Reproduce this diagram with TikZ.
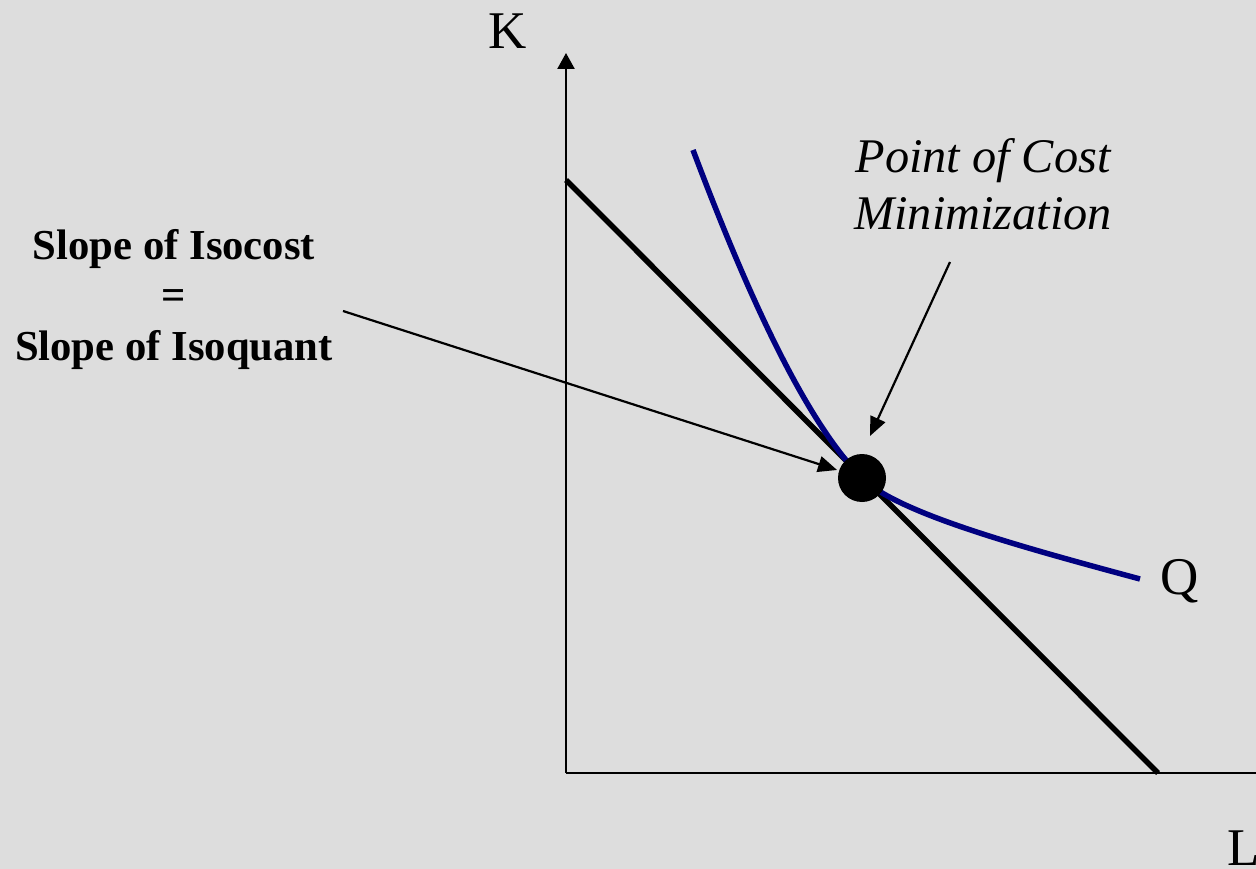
\documentclass[tikz,border=0pt]{standalone}
\usepackage{fontspec}
\setmainfont{Liberation Serif}
\usetikzlibrary{arrows.meta}
\definecolor{bg}{HTML}{DDDDDD}
\definecolor{isoq}{HTML}{000080}
\begin{document}
\begin{tikzpicture}[x=1pt,y=-1pt,
  axis/.style={line width=2.4pt, -{Triangle[length=16pt,width=17pt]}},
  pointer/.style={line width=2.2pt, -{Triangle[length=19pt,width=16pt]}},
  axlabel/.style={font=\fontsize{53}{60}\selectfont, anchor=base, inner sep=0pt},
  boldlab/.style={font=\fontsize{42.7}{50}\selectfont\bfseries, anchor=base, inner sep=0pt},
  itlab/.style={font=\fontsize{48.3}{57}\selectfont\itshape, anchor=base, inner sep=0pt}]
\clip (0,0) rectangle (1256,869);
\fill[bg] (0,0) rectangle (1256,869);
% axes
\coordinate (O) at (566,773);
\coordinate (Ktop) at (566,53);
\coordinate (Lend) at (1272,773);
\draw[axis] (O) -- (Ktop);
\draw[axis] (O) -- (Lend);
\node[axlabel] (K) at (508,49) {K};
\node[axlabel] (L) at (1244,865) {L};
% isocost line
\coordinate (c1) at (566,180);
\coordinate (c2) at (1158,773);
\draw[line width=5.5pt] (c1) -- (c2);
% isoquant
\coordinate (q0) at (693,150);
\coordinate (qt) at (862,478);
\coordinate (q1) at (1140,579);
\draw[isoq, line width=5.5pt] (q0) .. controls (742,280) and (802,418) .. (qt)
  .. controls (897,513) and (1020,546.6) .. (q1);
\node[axlabel] (Q) at (1180,594) {Q};
% point
\node[circle, fill=black, minimum size=48pt, inner sep=0pt] (dot) at (qt) {};
% labels
\node[boldlab] (s1) at (174,260) {Slope of Isocost};
\node[boldlab] (eq) at (174,309) {=};
\node[boldlab] (s2) at (174,360) {Slope of Isoquant};
\node[itlab] (p1) at (983,173) {Point of Cost};
\node[itlab] (p2) at (983,230) {Minimization};
% pointers
\coordinate (stail) at (343,311);
\draw[pointer, shorten >=2pt] (stail) -- (dot);
\coordinate (ptail) at (950,262);
\coordinate (ptip) at (870,436);
\draw[pointer] (ptail) -- (ptip);
\end{tikzpicture}
\end{document}
